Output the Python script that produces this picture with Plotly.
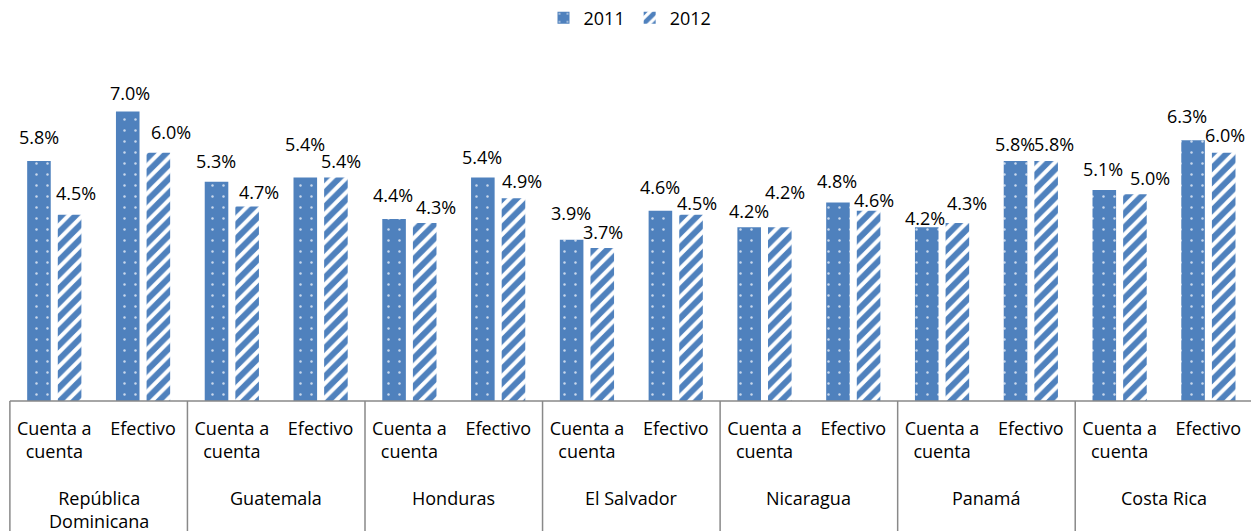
import plotly.graph_objects as go

# ---- data ----
countries = ["República<br>Dominicana", "Guatemala", "Honduras", "El Salvador",
             "Nicaragua", "Panamá", "Costa Rica"]
subcats = ["Cuenta a<br>cuenta", "Efectivo"]
series_names = ["2011", "2012"]
vals_2011 = [5.8, 7.0, 5.3, 5.4, 4.4, 5.4, 3.9, 4.6, 4.2, 4.8, 4.2, 5.8, 5.1, 6.3]
vals_2012 = [4.5, 6.0, 4.7, 5.4, 4.3, 4.9, 3.7, 4.5, 4.2, 4.6, 4.3, 5.8, 5.0, 6.0]

# ---- label placement (style, px offsets from category centre / bar top) ----
dx_2011 = [-15.6, -12.9, -15.7, -15.8, -16.3, -15.9, -16.0, -16.0, -15.6, -16.1, -16.6, -15.4, -16.3, -21.3]
dx_2012 = [21.4, 27.6, 27.2, 20.0, 26.2, 24.1, 16.1, 21.5, 20.2, 20.9, 25.1, 22.8, 30.3, 16.2]
dy_2011 = [23.7, 18.1, 21.0, 33.6, 24.0, 20.3, 26.3, 23.4, 16.5, 21.7, 8.9, 17.0, 20.7, 24.3]
dy_2012 = [22.1, 21.0, 14.8, 16.9, 16.4, 17.6, 16.2, 11.5, 35.5, 10.7, 20.4, 17.0, 15.8, 17.7]

BLUE = "#4F81BD"
DOT = "#C9D8EC"
FONT = "Open Sans"
n = len(vals_2011)
xpos = list(range(n))
ticktext = [subcats[i % 2] for i in range(n)]

fig = go.Figure()
fig.add_trace(go.Bar(
    x=xpos, y=vals_2011, name=series_names[0],
    marker=dict(color=BLUE, line=dict(width=0),
                pattern=dict(shape=".", fgcolor=DOT, bgcolor=BLUE,
                             fillmode="replace", fgopacity=1,
                             size=11, solidity=0.04)),
))
fig.add_trace(go.Bar(
    x=xpos, y=vals_2012, name=series_names[1],
    marker=dict(color=BLUE, line=dict(width=0),
                pattern=dict(shape="/", fgcolor=BLUE, bgcolor="white",
                             fillmode="replace", fgopacity=1,
                             size=10, solidity=0.6)),
))

annotations = []
for vals, dxs, dys in ((vals_2011, dx_2011, dy_2011), (vals_2012, dx_2012, dy_2012)):
    for i, v in enumerate(vals):
        annotations.append(dict(
            x=i, y=v, xref="x", yref="y", text=f"{v:.1f}%", showarrow=False,
            xshift=dxs[i], yshift=dys[i], yanchor="middle", xanchor="center",
            font=dict(family=FONT, size=18, color="black")))

for g, c in enumerate(countries):
    annotations.append(dict(
        x=2 * g + 0.5, y=0, xref="x", yref="paper", text=c, showarrow=False,
        yanchor="top", xanchor="center", yshift=-83,
        font=dict(family=FONT, size=18, color="black")))

shapes = []
line_style = dict(color="#898989", width=1.5)
for g in range(len(countries) + 1):
    shapes.append(dict(type="line", xref="x", yref="paper",
                       x0=2 * g - 0.5, x1=2 * g - 0.5, y0=0, y1=-0.5,
                       line=line_style, layer="above"))
shapes.append(dict(type="line", xref="x", yref="paper",
                   x0=-0.5, x1=n, y0=0, y1=0,
                   line=line_style, layer="above"))

fig.update_layout(
    width=1251, height=531,
    margin=dict(l=9, r=0, t=70, b=130),
    paper_bgcolor="white", plot_bgcolor="white",
    barmode="group", bargap=0.31, bargroupgap=0.23,
    font=dict(family=FONT, size=18, color="black"),
    showlegend=True,
    legend=dict(orientation="h", x=0.5, xanchor="center",
                yref="container", y=0.966, yanchor="middle",
                font=dict(family=FONT, size=18, color="black")),
    xaxis=dict(range=[-0.51, 13.48], tickmode="array", tickvals=xpos,
               ticktext=ticktext, showgrid=False, zeroline=False,
               showline=False, ticks="", ticklabelstandoff=15,
               tickfont=dict(family=FONT, size=18, color="black")),
    yaxis=dict(range=[0, 8], visible=False, showgrid=False, zeroline=False),
    annotations=annotations,
    shapes=shapes,
)

fig.write_html(
    "out.html",
    config={"displayModeBar": False},
    post_script="document.body.style.margin='0';document.body.style.overflow='hidden';",
)
